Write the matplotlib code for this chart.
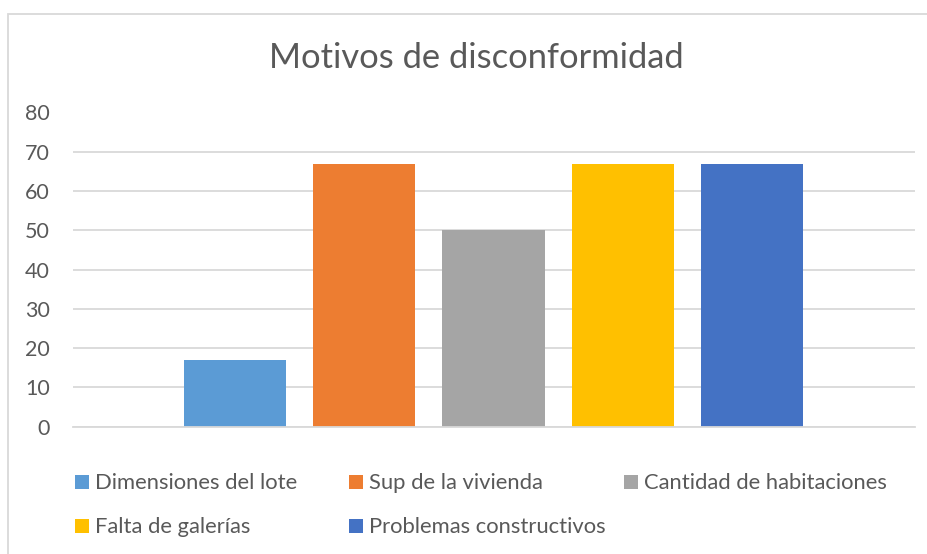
import matplotlib.pyplot as plt
from matplotlib.patches import Rectangle

plt.rcParams['font.family'] = ['Lato', 'DejaVu Sans']

# Values of each series
motivos = ['Dimensiones del lote', 'Sup de la vivienda', 'Cantidad de habitaciones',
           'Falta de galerías', 'Problemas constructivos']
valores = [17, 67, 50, 67, 67]
colores = ['#5B9BD5', '#ED7D31', '#A5A5A5', '#FFC000', '#4472C4']
yticks = [0, 10, 20, 30, 40, 50, 60, 70, 80]

W, H = 928, 554
fig = plt.figure(figsize=(W / 100, H / 100), dpi=100)
texto = '#595959'
gris = '#D9D9D9'

# chart border (only left and top edges fall inside the image)
fig.add_artist(Rectangle((8.5 / W, -0.1), 1.2, 1 - 13.5 / H + 0.1, transform=fig.transFigure,
                         fill=False, edgecolor=gris, lw=1.3))

ax = fig.add_axes([73 / W, 1 - 426.7 / H, (915 - 73) / W, (426.7 - 112.5) / H])
r = list(range(len(valores)))
ax.bar(r, valores, color=colores, width=0.79, zorder=3)
ax.set_xlim(-1.253, 5.261)
ax.set_ylim(0, 80)
ax.set_yticks(yticks)
ax.set_xticks([])
ax.grid(axis='y', color=gris, lw=1.3, zorder=0)
for s in ['top', 'right', 'left']:
    ax.spines[s].set_visible(False)
ax.spines['bottom'].set_color(gris)
ax.spines['bottom'].set_linewidth(1.3)
ax.spines['bottom'].set_zorder(4)
ax.tick_params(axis='y', length=0, pad=16.5, labelsize=15.5, labelcolor=texto)

fig.text(476.5 / W, 1 - 68 / H, 'Motivos de disconformidad', ha='center', va='baseline',
         fontsize=24.8, color=texto)

# legend: three items per row
for i, (nombre, c) in enumerate(zip(motivos, colores)):
    col, fila = i % 3, i // 3
    x = 75 + col * 274.5
    y = 482 + fila * 44
    fig.add_artist(Rectangle((x / W, 1 - (y + 7) / H), 14 / W, 14 / H,
                             transform=fig.transFigure, color=c, lw=0))
    fig.text((x + 20) / W, 1 - (y + 7) / H, nombre, ha='left', va='baseline',
             fontsize=15.8, color=texto)

fig.savefig('out.png', dpi=100)
